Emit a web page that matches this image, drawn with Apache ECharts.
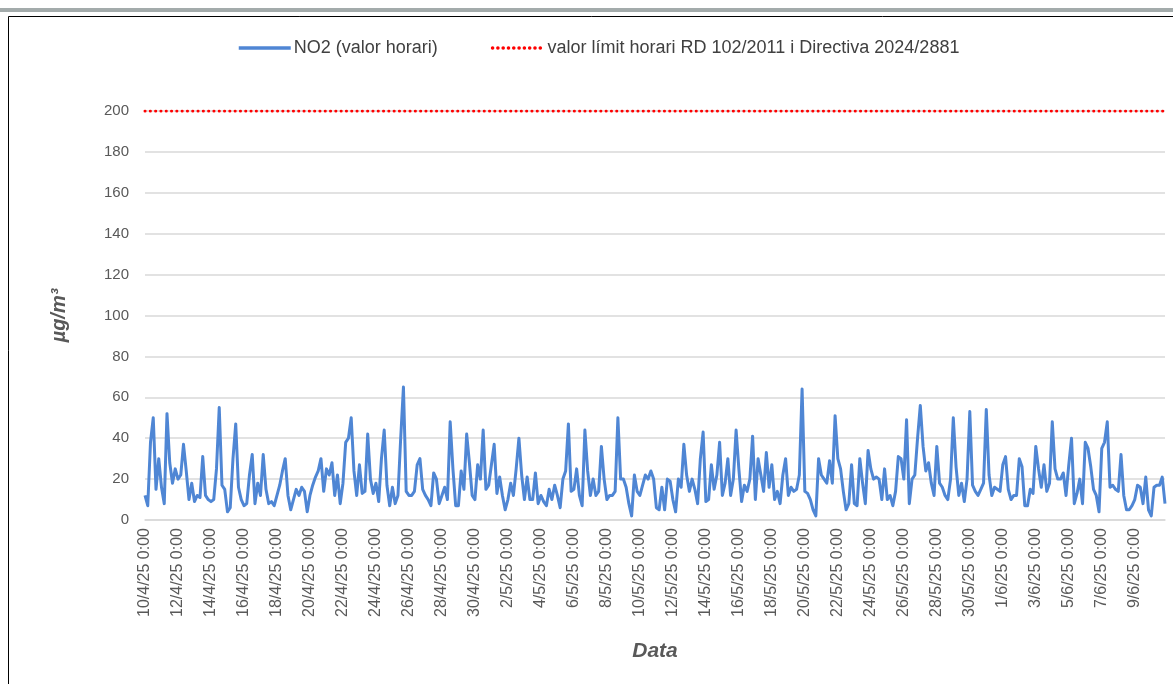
<!DOCTYPE html>
<html>
<head>
<meta charset="utf-8">
<script src="https://cdn.jsdelivr.net/npm/echarts@6/dist/echarts.min.js"></script>
<style>
  html, body { margin: 0; padding: 0; background: #fff; }
  #chart { width: 1173px; height: 684px; }
</style>
</head>
<body>
<div id="chart"></div>
<script>
// NO2 hourly concentration at ~4-hour resolution (µg/m³)
const startDate = [2025, 3, 10]; // 10/4/25 0:00
const stepHours = 4;
const no2 = [
  12,7,38,50,15,30,16,8,52,28,18,25,20,22,37,24,10,18,9,12,11,31,12,10,9,10,25,55,17,15,4,6,30,47,16,10,7,
  8,22,32,8,18,12,32,15,8,9,7,12,17,24,30,12,5,10,15,12,16,14,4,12,17,21,24,30,14,25,22,28,12,22,
  8,18,38,40,50,24,12,27,13,14,42,20,13,18,9,30,44,17,7,16,8,12,40,65,14,12,12,14,27,30,15,12,10,7,23,20,8,
  12,16,10,48,25,7,7,24,15,42,28,12,10,27,20,44,15,17,27,37,13,21,12,5,10,18,12,25,40,22,10,21,10,10,23,8,
  12,9,7,15,10,17,12,6,20,24,47,14,15,25,12,7,44,24,12,20,12,14,36,20,10,12,12,14,50,20,20,16,8,2,22,14,
  12,17,22,20,24,20,6,5,16,5,20,19,10,4,20,16,37,22,14,20,15,8,30,43,9,10,27,15,22,38,12,18,30,12,20,44,25,
  9,17,14,20,41,10,30,22,14,33,16,27,10,14,8,22,30,12,16,14,15,22,64,14,13,10,5,2,30,22,20,18,29,18,51,30,
  25,14,5,8,27,8,7,30,18,8,34,25,20,21,20,10,25,10,12,7,14,31,30,20,49,8,20,22,40,56,36,24,28,18,12,36,
  18,16,12,10,20,50,26,12,18,9,20,53,17,14,12,15,18,54,22,12,16,15,14,27,31,15,10,12,12,30,26,7,7,15,13,36,25,
  16,27,14,18,48,25,20,20,23,12,27,40,8,13,20,8,38,35,26,15,12,4,35,38,48,16,17,15,14,32,12,5,5,7,10,17,16,8,21,5,2,16,17,17,21,8
];
const limitValue = 200;
const yTicks = [0, 20, 40, 60, 80, 100, 120, 140, 160, 180, 200];
const seriesNames = ['NO2 (valor horari)', 'valor límit horari RD 102/2011 i Directiva 2024/2881'];

// category labels (timestamps)
const categories = no2.map((_, i) => {
  const d = new Date(startDate[0], startDate[1], startDate[2], i * stepHours);
  return d.getDate() + '/' + (d.getMonth() + 1) + '/' + String(d.getFullYear()).slice(2) + ' ' + d.getHours() + ':00';
});
const limitData = categories.map(() => limitValue);

const chart = echarts.init(document.getElementById('chart'), null, { renderer: 'canvas' });
const FONT = '"Liberation Sans", Arial, sans-serif';
chart.setOption({
  animation: false,
  backgroundColor: '#ffffff',
  graphic: [
    { type: 'rect', shape: { x: 0, y: 8, width: 1173, height: 4 }, style: { fill: '#a3abab' }, silent: true },
    { type: 'rect', shape: { x: 8.5, y: 16.5, width: 1180, height: 700 }, style: { fill: 'none', stroke: '#000', lineWidth: 1 }, silent: true }
  ],
  legend: {
    left: 232,
    top: 34,
    itemGap: 53,
    itemWidth: 52,
    itemHeight: 14,
    itemStyle: { opacity: 0 },
    lineStyle: { width: 3.5 },
    textStyle: { fontFamily: FONT, fontSize: 18, color: '#404040', padding: [0, 0, 0, -2] },
    data: [
      { name: seriesNames[0] },
      { name: seriesNames[1] }
    ]
  },
  grid: { left: 145, right: 8, top: 111, bottom: 164, containLabel: false },
  xAxis: {
    type: 'category',
    data: categories,
    boundaryGap: false,
    name: 'Data',
    nameLocation: 'middle',
    nameGap: 121,
    nameTextStyle: { fontFamily: FONT, fontSize: 21, fontWeight: 'bold', fontStyle: 'italic', color: '#595959' },
    axisLine: { lineStyle: { color: '#d9d9d9', width: 1.5 } },
    axisTick: { show: false },
    axisLabel: {
      interval: 11,
      rotate: 90,
      margin: 8,
      fontFamily: FONT,
      fontSize: 16,
      color: '#595959'
    },
    splitLine: { show: false }
  },
  yAxis: {
    type: 'value',
    min: 0,
    max: 200,
    interval: 20,
    name: 'µg/m³',
    nameLocation: 'middle',
    nameGap: 76,
    nameRotate: 90,
    nameTextStyle: { fontFamily: FONT, fontSize: 20, fontWeight: 'bold', fontStyle: 'italic', color: '#595959' },
    axisLine: { show: false },
    axisTick: { show: false },
    axisLabel: { margin: 16, fontFamily: FONT, fontSize: 15, color: '#595959' },
    splitLine: { lineStyle: { color: '#d9d9d9', width: 1.5 } }
  },
  series: [
    {
      name: seriesNames[0],
      type: 'line',
      data: no2,
      symbol: 'none',
      smooth: false,
      lineStyle: { color: '#4f86d4', width: 3, join: 'round' },
      itemStyle: { color: '#4f86d4' },
      z: 3
    },
    {
      name: seriesNames[1],
      type: 'line',
      data: limitData,
      symbol: 'none',
      lineStyle: { color: '#ff0000', width: 3, type: [0.1, 5.2], cap: 'round' },
      itemStyle: { color: '#ff0000' },
      z: 2
    }
  ]
});
</script>
</body>
</html>
